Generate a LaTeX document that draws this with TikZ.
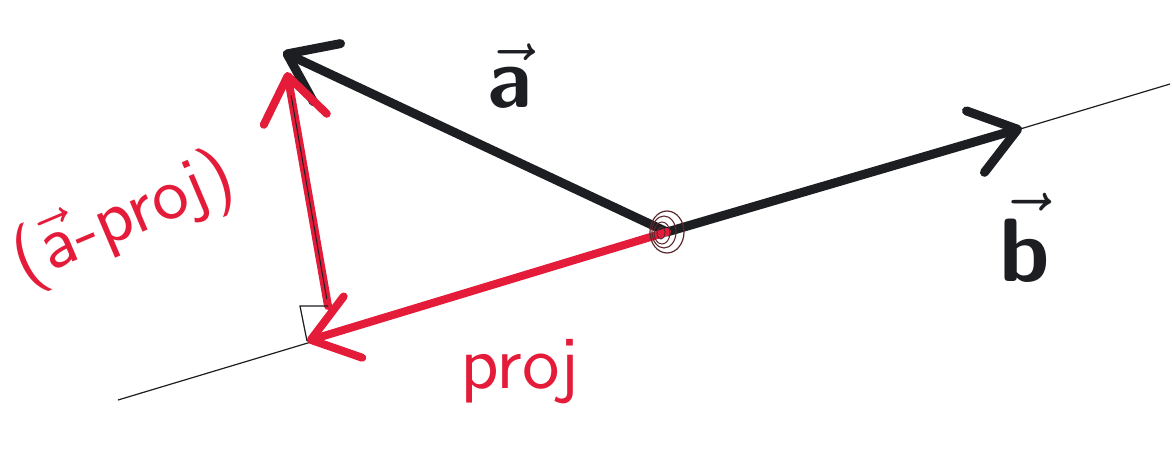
\documentclass[tikz,border=0pt]{standalone}
\usetikzlibrary{arrows.meta,calc}
\definecolor{ink}{RGB}{28,30,34}
\definecolor{redink}{RGB}{228,28,58}
\definecolor{spiralink}{RGB}{90,40,45}
\begin{document}
\begin{tikzpicture}[x=1pt,y=-1pt,
  vecline/.style={line width=9pt,line cap=round,line join=round,
    -{Straight Barb[length=44pt,width=64pt,line cap=round,line join=round]}},
  thinline/.style={ink,line width=1.2pt},
  lbl/.style={inner sep=0pt,font=\sffamily}]
\useasboundingbox[fill=white] (0,0) rectangle (1173,456);
% points
\coordinate (O) at (667,232);
\coordinate (A) at (283,52);
\coordinate (B) at (1022,128);
\coordinate (F) at (307,341);
\coordinate (P) at (328,306);
\coordinate (Q) at (287,72);
\coordinate (K) at (300,306);
\coordinate (L1) at (118,400);
\coordinate (L2) at (1170,84);
% thin line of b
\draw[thinline] (L1) -- (L2);
% vectors a and b
\draw[vecline,ink] (O) -- (A);
\draw[vecline,ink] (O) -- (B);
% projection
\draw[vecline,redink,line width=8pt] (O) -- (F);
% a - proj
\draw[vecline,redink,line width=8pt] (P) -- (Q);
\draw[ink,line width=1pt] ($(P)!0.03!(Q)$) -- ($(P)!0.9!(Q)$);
% right angle mark
\draw[ink,line width=1.2pt] (P) -- (K) -- (F);
% pen mark at origin
\draw[spiralink,line width=1.2pt] (O) ellipse [x radius=17pt,y radius=21pt];
\draw[spiralink,line width=1.1pt] ([xshift=-3pt]O) ellipse [x radius=12pt,y radius=16pt];
\draw[spiralink,line width=1pt] ([xshift=-5pt,yshift=-1pt]O) ellipse [x radius=8pt,y radius=11pt];
\draw[spiralink,line width=1pt] ([xshift=-6pt,yshift=-1pt]O) ellipse [x radius=4pt,y radius=6pt];
% labels
\node[lbl,ink,scale=8.5] (la) at (510,76) {$\vec{\textsf{\bfseries a}}$};
\node[lbl,ink,scale=9] (lb) at (1025,238) {$\vec{\textsf{\bfseries b}}$};
\node[lbl,redink,scale=7.5] (lp) at (520,372) {proj};
\node[lbl,redink,scale=7.3,rotate=23] (lap) at (124,220) {($\vec{\textsf{a}}$-proj)};
\end{tikzpicture}
\end{document}
